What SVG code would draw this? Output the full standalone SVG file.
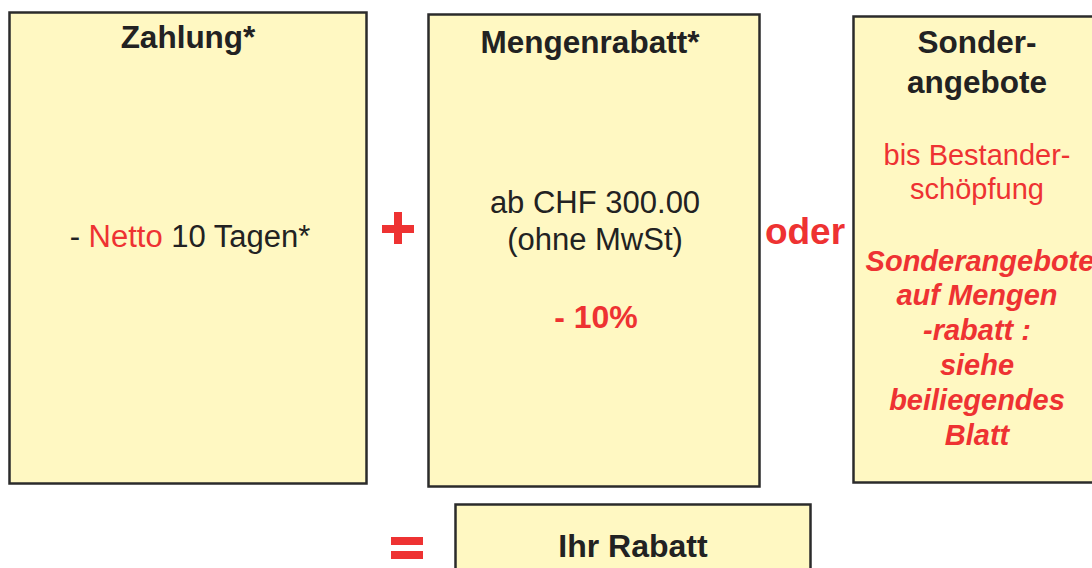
<svg xmlns="http://www.w3.org/2000/svg" width="1092" height="568" viewBox="0 0 1092 568">
<style>
.box{fill:#fff8c2;stroke:#2b2b2b;stroke-width:2.5}
text{font-family:"Liberation Sans",Arial,sans-serif;text-anchor:middle}
.h{font-weight:bold;font-size:31.5px;fill:#222}
.t{font-size:31px;fill:#222}
.r{fill:#ee3232}
.rt{font-size:29px;fill:#ee3232}
.ri{font-size:29px;font-weight:bold;font-style:italic;fill:#ee3232}
.op{fill:#ee3232}
</style>
<rect width="1092" height="568" fill="#fff"/>
<g id="zahlung">
<rect class="box" x="9.5" y="12.5" width="357" height="471"/>
<text class="h" x="188" y="48">Zahlung*</text>
<text class="t" x="190" y="247">- <tspan class="r">Netto</tspan> 10 Tagen*</text>
</g>
<g id="mengenrabatt">
<rect class="box" x="428.5" y="14.5" width="331" height="472"/>
<text class="h" x="590" y="53">Mengenrabatt*</text>
<text class="t" x="595" y="213">ab CHF 300.00</text>
<text class="t" x="595" y="250">(ohne MwSt)</text>
<text class="h r" x="596" y="328" style="font-size:32px">- 10%</text>
</g>
<g id="sonderangebote">
<rect class="box" x="853.5" y="16.5" width="260" height="466"/>
<text class="h" x="977" y="53">Sonder-</text>
<text class="h" x="977" y="93">angebote</text>
<text class="rt" x="977" y="165">bis Bestander-</text>
<text class="rt" x="977" y="199">schöpfung</text>
<text class="ri" x="980" y="271">Sonderangebote</text>
<text class="ri" x="977" y="305">auf Mengen</text>
<text class="ri" x="977" y="340">-rabatt :</text>
<text class="ri" x="977" y="375">siehe</text>
<text class="ri" x="977" y="410">beiliegendes</text>
<text class="ri" x="977" y="445">Blatt</text>
</g>
<g id="ihr-rabatt">
<rect class="box" x="455.5" y="504.5" width="355" height="80"/>
<text class="h" x="633" y="557" style="font-size:32px">Ihr Rabatt</text>
</g>
<g id="connectors">
<rect class="op" x="382" y="225" width="32" height="8"/>
<rect class="op" x="394" y="212" width="8" height="32"/>
<text x="805" y="244" style="font-weight:bold;font-size:37px;fill:#ee3232">oder</text>
<rect class="op" x="391" y="537" width="32" height="8"/>
<rect class="op" x="391" y="551" width="32" height="8"/>
</g>
</svg>
